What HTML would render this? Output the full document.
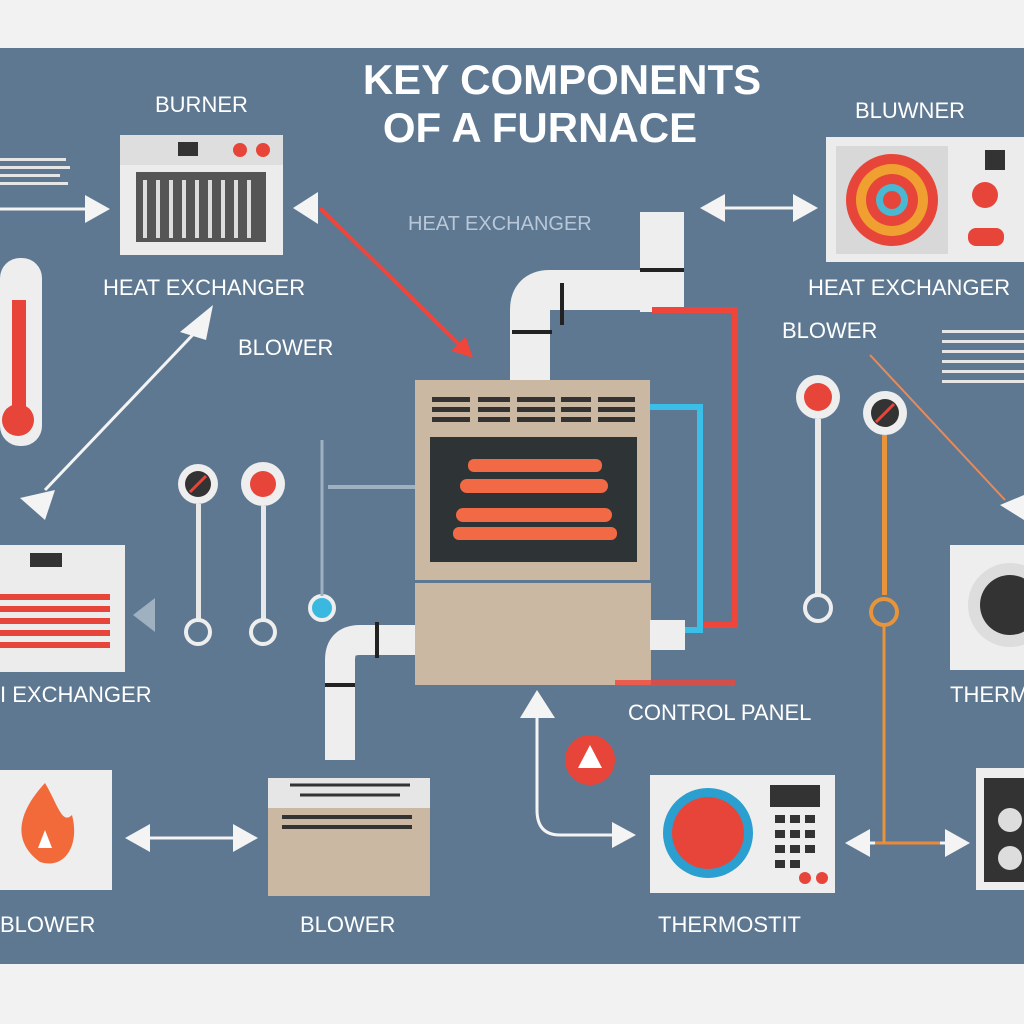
<!DOCTYPE html>
<html><head><style>
html,body{margin:0;padding:0;width:1024px;height:1024px;overflow:hidden;background:#f2f2f2}
svg{display:block}
text{font-family:"Liberation Sans",sans-serif}
</style></head><body>
<svg width="1024" height="1024" viewBox="0 0 1024 1024" xmlns="http://www.w3.org/2000/svg">
<rect x="0" y="0" width="1024" height="1024" fill="#f2f2f2"/>
<rect x="0" y="48" width="1024" height="916" fill="#5e7891"/>
<defs>
<marker id="ar" markerWidth="5" markerHeight="5" refX="4" refY="2.5" orient="auto" markerUnits="strokeWidth"><path d="M0,0 L5,2.5 L0,5 z" fill="#f0453a"/></marker>
</defs>
<!-- title -->
<text x="562" y="94" font-size="42" fill="#fff" text-anchor="middle" font-weight="600">KEY COMPONENTS</text>
<text x="540" y="142" font-size="42" fill="#fff" text-anchor="middle" font-weight="600">OF A FURNACE</text>
<!-- labels -->
<g fill="#fff" font-size="22">
<text x="155" y="112">BURNER</text>
<text x="855" y="118">BLUWNER</text>
<text x="103" y="295">HEAT EXCHANGER</text>
<text x="808" y="295">HEAT EXCHANGER</text>
<text x="238" y="355">BLOWER</text>
<text x="782" y="338">BLOWER</text>
<text x="0" y="702">I EXCHANGER</text>
<text x="628" y="720">CONTROL PANEL</text>
<text x="0" y="932">BLOWER</text>
<text x="300" y="932">BLOWER</text>
<text x="658" y="932">THERMOSTIT</text>
<text x="950" y="702">THERM</text>
</g>
<text x="408" y="230" font-size="20" fill="#b8c8d8">HEAT EXCHANGER</text>
<g fill="#e6e6e6"><rect x="0" y="158" width="66" height="3"/><rect x="0" y="166" width="70" height="3"/><rect x="0" y="174" width="60" height="3"/><rect x="0" y="182" width="68" height="3"/></g>
<g fill="#e6e6e6"><rect x="942" y="330" width="82" height="3"/><rect x="942" y="340" width="82" height="3"/><rect x="942" y="350" width="82" height="3"/><rect x="942" y="360" width="82" height="3"/><rect x="942" y="370" width="82" height="3"/><rect x="942" y="380" width="82" height="3"/></g>
<rect x="120" y="135" width="163" height="120" fill="#ececec"/>
<rect x="120" y="135" width="163" height="30" fill="#dedede"/>
<rect x="178" y="142" width="20" height="14" fill="#333"/>
<circle cx="240" cy="150" r="7" fill="#e8453a"/><circle cx="263" cy="150" r="7" fill="#e8453a"/>
<rect x="136" y="172" width="130" height="70" fill="#555"/>
<g stroke="#ddd" stroke-width="4"><line x1="145" y1="180" x2="145" y2="238"/><line x1="158" y1="180" x2="158" y2="238"/><line x1="171" y1="180" x2="171" y2="238"/><line x1="184" y1="180" x2="184" y2="238"/><line x1="197" y1="180" x2="197" y2="238"/><line x1="210" y1="180" x2="210" y2="238"/><line x1="223" y1="180" x2="223" y2="238"/><line x1="236" y1="180" x2="236" y2="238"/><line x1="249" y1="180" x2="249" y2="238"/></g>
<line x1="0" y1="209" x2="90" y2="209" stroke="#f4f4f4" stroke-width="3"/>
<path d="M110,209 L85,195 L85,223 z" fill="#f4f4f4"/>
<path d="M293,208 L318,192 L318,224 z" fill="#f4f4f4"/>
<line x1="320" y1="208" x2="470" y2="355" stroke="#f0453a" stroke-width="4" marker-end="url(#ar)"/>
<rect x="0" y="258" width="42" height="188" rx="20" fill="#eee"/>
<rect x="12" y="300" width="14" height="110" fill="#e8453a"/>
<circle cx="18" cy="420" r="16" fill="#e8453a"/>
<line x1="45" y1="490" x2="205" y2="322" stroke="#f4f4f4" stroke-width="3"/>
<path d="M180,332 L213,305 L206,340 z" fill="#f4f4f4"/>
<path d="M20,498 L55,490 L45,520 z" fill="#f4f4f4"/>
<circle cx="198" cy="484" r="20" fill="#eee"/><circle cx="198" cy="484" r="13" fill="#333"/><path d="M190,492 L206,476" stroke="#e8453a" stroke-width="3"/>
<circle cx="263" cy="484" r="22" fill="#eee"/><circle cx="263" cy="484" r="13" fill="#e8453a"/>
<rect x="196" y="504" width="5" height="118" fill="#e8e8e8"/><rect x="261" y="506" width="5" height="116" fill="#e8e8e8"/>
<circle cx="198" cy="632" r="12" fill="none" stroke="#eee" stroke-width="4"/>
<circle cx="263" cy="632" r="12" fill="none" stroke="#eee" stroke-width="4"/>
<circle cx="322" cy="608" r="12" fill="#3ab8e0" stroke="#eee" stroke-width="4"/>
<line x1="322" y1="440" x2="322" y2="596" stroke="#9fb0c0" stroke-width="3"/>
<line x1="328" y1="487" x2="415" y2="487" stroke="#9fb0c0" stroke-width="4"/>
<rect x="0" y="545" width="125" height="127" fill="#ececec"/>
<rect x="30" y="553" width="32" height="14" fill="#333"/>
<g fill="#e8453a"><rect x="0" y="594" width="110" height="6"/><rect x="0" y="606" width="110" height="6"/><rect x="0" y="618" width="110" height="6"/><rect x="0" y="630" width="110" height="6"/><rect x="0" y="642" width="110" height="6"/></g>
<path d="M133,615 L155,598 L155,632 z" fill="#9fb0c0"/>
<path d="M530,380 L530,310 Q530,290 550,290 L650,290" stroke="#eeeeee" stroke-width="40" fill="none"/>
<rect x="640" y="212" width="44" height="100" fill="#eee"/>
<rect x="640" y="268" width="44" height="4" fill="#222"/>
<rect x="560" y="283" width="4" height="42" fill="#222"/>
<rect x="512" y="330" width="40" height="4" fill="#222"/>
<path d="M652,310 L735,310 L735,625 L700,625" stroke="#f0453a" stroke-width="6" fill="none"/>
<path d="M648,407 L700,407 L700,630 L680,630" stroke="#3ac0e8" stroke-width="6" fill="none"/>
<rect x="415" y="380" width="235" height="200" fill="#cbb8a2"/>
<g fill="#333"><rect x="432" y="397" width="38" height="5"/><rect x="432" y="407" width="38" height="5"/><rect x="432" y="417" width="38" height="5"/>
<rect x="478" y="397" width="32" height="5"/><rect x="478" y="407" width="32" height="5"/><rect x="478" y="417" width="32" height="5"/>
<rect x="517" y="397" width="38" height="5"/><rect x="517" y="407" width="38" height="5"/><rect x="517" y="417" width="38" height="5"/>
<rect x="561" y="397" width="30" height="5"/><rect x="561" y="407" width="30" height="5"/><rect x="561" y="417" width="30" height="5"/>
<rect x="598" y="397" width="37" height="5"/><rect x="598" y="407" width="37" height="5"/><rect x="598" y="417" width="37" height="5"/></g>
<rect x="430" y="437" width="207" height="125" fill="#2e3436"/>
<g fill="#f26a45"><rect x="468" y="459" width="134" height="13" rx="6"/><rect x="460" y="479" width="148" height="14" rx="7"/><rect x="456" y="508" width="156" height="14" rx="7"/><rect x="453" y="527" width="164" height="13" rx="6"/></g>
<rect x="415" y="583" width="236" height="102" fill="#cbb8a2"/>
<rect x="650" y="620" width="35" height="30" fill="#eee"/>
<rect x="615" y="680" width="120" height="6" fill="#f0453a" opacity="0.8"/>
<path d="M340,760 L340,660 Q340,640 360,640 L415,640" stroke="#eee" stroke-width="30" fill="none"/>
<rect x="375" y="622" width="4" height="36" fill="#222"/>
<rect x="325" y="683" width="30" height="4" fill="#222"/>
<rect x="0" y="770" width="112" height="120" fill="#eee"/>
<path d="M45,783 C20,810 10,840 40,862 C65,870 80,845 72,815 C62,825 58,805 45,783 z" fill="#f26a3a"/>
<path d="M38,848 L45,830 L52,848 z" fill="#fff"/>
<line x1="130" y1="838" x2="250" y2="838" stroke="#f4f4f4" stroke-width="3"/>
<path d="M125,838 L150,824 L150,852 z" fill="#f4f4f4"/><path d="M258,838 L233,824 L233,852 z" fill="#f4f4f4"/>
<rect x="268" y="778" width="162" height="118" fill="#cbb8a2"/>
<rect x="268" y="778" width="162" height="30" fill="#e6e6e6"/>
<path d="M290,785 L410,785 M300,795 L400,795" stroke="#333" stroke-width="3"/>
<g fill="#333"><rect x="282" y="815" width="130" height="4"/><rect x="282" y="825" width="130" height="4"/></g>
<path d="M537,690 L520,718 L555,718 z" fill="#f4f4f4"/>
<path d="M537,715 L537,810 Q537,835 560,835 L630,835" stroke="#f4f4f4" stroke-width="3" fill="none"/>
<path d="M636,835 L612,822 L612,848 z" fill="#f4f4f4"/>
<circle cx="590" cy="760" r="25" fill="#e8453a"/><path d="M590,745 L578,768 L602,768 z" fill="#fff"/>
<rect x="650" y="775" width="185" height="118" fill="#eee"/>
<circle cx="708" cy="833" r="45" fill="#2a9fd0"/><circle cx="708" cy="833" r="36" fill="#e8453a"/>
<rect x="770" y="785" width="50" height="22" fill="#333"/>
<g fill="#333"><rect x="775" y="815" width="10" height="8"/><rect x="790" y="815" width="10" height="8"/><rect x="805" y="815" width="10" height="8"/><rect x="775" y="830" width="10" height="8"/><rect x="790" y="830" width="10" height="8"/><rect x="805" y="830" width="10" height="8"/><rect x="775" y="845" width="10" height="8"/><rect x="790" y="845" width="10" height="8"/><rect x="805" y="845" width="10" height="8"/><rect x="775" y="860" width="10" height="8"/><rect x="790" y="860" width="10" height="8"/></g>
<circle cx="805" cy="878" r="6" fill="#e8453a"/><circle cx="822" cy="878" r="6" fill="#e8453a"/>
<line x1="850" y1="843" x2="965" y2="843" stroke="#f4f4f4" stroke-width="3"/>
<path d="M845,843 L870,829 L870,857 z" fill="#f4f4f4"/><path d="M970,843 L945,829 L945,857 z" fill="#f4f4f4"/>
<line x1="875" y1="843" x2="940" y2="843" stroke="#e88a3a" stroke-width="3"/>
<rect x="976" y="768" width="48" height="122" fill="#eee"/><rect x="984" y="778" width="40" height="104" fill="#333"/>
<circle cx="1010" cy="820" r="12" fill="#ddd"/><circle cx="1010" cy="858" r="12" fill="#ddd"/>
<rect x="826" y="137" width="198" height="125" fill="#ececec"/>
<rect x="836" y="146" width="112" height="108" fill="#d8d8d8"/>
<circle cx="892" cy="200" r="46" fill="#e8453a"/><circle cx="892" cy="200" r="36" fill="#f0a030"/><circle cx="892" cy="200" r="26" fill="#e8453a"/><circle cx="892" cy="200" r="16" fill="#4ab8d0"/><circle cx="892" cy="200" r="9" fill="#e8453a"/>
<rect x="985" y="150" width="20" height="20" fill="#333"/>
<circle cx="985" cy="195" r="13" fill="#e8453a"/><rect x="968" y="228" width="36" height="18" rx="8" fill="#e8453a"/>
<line x1="715" y1="208" x2="810" y2="208" stroke="#f4f4f4" stroke-width="3"/>
<path d="M700,208 L725,194 L725,222 z" fill="#f4f4f4"/><path d="M818,208 L793,194 L793,222 z" fill="#f4f4f4"/>
<circle cx="818" cy="397" r="22" fill="#eee"/><circle cx="818" cy="397" r="14" fill="#e8453a"/>
<circle cx="885" cy="413" r="22" fill="#eee"/><circle cx="885" cy="413" r="14" fill="#333"/><path d="M876,422 L894,404" stroke="#e8453a" stroke-width="3"/>
<rect x="815" y="419" width="6" height="178" fill="#e8e8e8"/>
<rect x="882" y="435" width="5" height="160" fill="#e8943a"/>
<line x1="884" y1="625" x2="884" y2="843" stroke="#e8943a" stroke-width="3"/>
<circle cx="818" cy="608" r="13" fill="none" stroke="#eee" stroke-width="4"/>
<circle cx="884" cy="612" r="13" fill="none" stroke="#e8943a" stroke-width="4"/>
<line x1="870" y1="355" x2="1005" y2="500" stroke="#e88a5a" stroke-width="2"/>
<path d="M1000,505 L1024,495 L1024,520 z" fill="#f4f4f4"/>
<rect x="950" y="545" width="74" height="125" fill="#eee"/>
<circle cx="1010" cy="605" r="42" fill="#ddd"/><circle cx="1010" cy="605" r="30" fill="#333"/>
</svg>
</body></html>
